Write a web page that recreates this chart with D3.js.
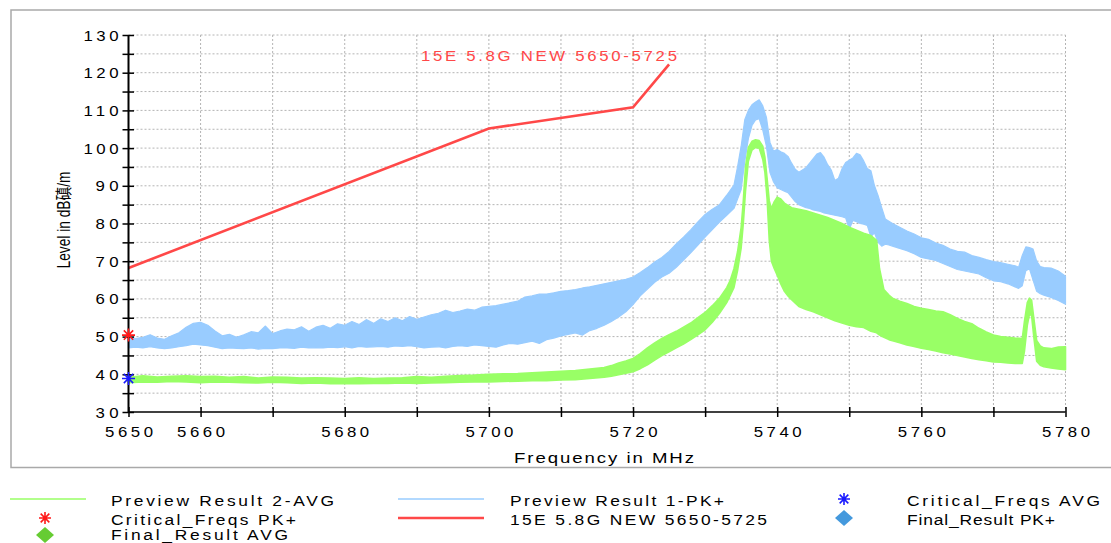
<!DOCTYPE html>
<html>
<head>
<meta charset="utf-8">
<script src="https://cdn.jsdelivr.net/npm/d3@7"></script>
<style>
  body { margin: 0; background: #fff; }
  svg text { font-family: "Liberation Sans", Arial, "Noto Sans CJK TC", "Noto Sans CJK SC", sans-serif; }
</style>
</head>
<body>
<svg id="chart" width="1111" height="543"></svg>
<script>
// ---- Preview Result 1-PK+ : envelope of the peak trace (MHz, dBµV/m) ----
const pkFreq = [5650,5651,5652,5653,5654,5655,5656,5657,5658,5659,5660,5661,5662,5663,5664,5665,5666,5667,5668,5669,
  5670,5671,5672,5673,5674,5675,5676,5677,5678,5679,5680,5681,5682,5683,5684,5685,5686,5687,5688,5689,
  5690,5691,5692,5693,5694,5695,5696,5697,5698,5699,5700,5701,5702,5703,5704,5705,5706,5707,5708,5709,
  5710,5711,5712,5713,5714,5715,5716,5717,5718,5719,5720,5721,5722,5723,5724,5725,5726,5727,5728,5729,
  5730,5731,5732,5733,5734,5734.5,5735,5735.5,5736,5736.5,5737,5737.5,5738,5738.5,5739,5739.5,
  5740,5740.5,5741,5741.5,5742,5742.5,5743,5743.5,5744,5744.5,5745,5745.5,5746,5746.5,5747,5747.5,
  5748,5748.5,5749,5749.5,5750,5750.5,5751,5751.5,5752,5752.5,5753,5753.5,5754,5754.5,5755,5755.5,
  5756,5757,5758,5759,5760,5761,5762,5763,5764,5765,5766,5767,5768,5769,5770,5771,5772,5773,5773.5,
  5774,5774.5,5775,5775.5,5776,5776.5,5777,5778,5779,5780];
const pkHigh = [50.0,49.5,49.8,50.5,49.6,49.3,50.2,51.0,52.5,53.5,53.8,53.0,51.5,50.2,50.6,49.8,50.5,51.3,51.0,52.8,
  50.8,51.5,52.0,51.8,52.6,51.4,52.5,53.0,52.2,53.4,53.0,54.0,53.2,54.5,53.5,54.7,54.0,55.0,54.2,55.3,
  54.6,55.2,55.8,56.2,57.0,56.4,56.8,57.3,57.0,57.8,58.0,58.2,58.6,59.0,59.4,60.5,60.8,61.3,61.3,61.6,
  62.0,62.2,62.5,62.9,63.2,63.6,64.0,64.4,64.8,65.2,65.8,67.0,68.3,69.8,71.0,72.6,74.6,76.4,78.3,80.4,
  82.4,83.8,85.0,87.5,90.2,95.0,100.5,107.5,110.0,111.5,112.2,112.8,111.2,108.2,101.5,99.2,
  99.6,99.0,98.6,97.8,96.0,94.4,93.6,94.2,94.8,96.0,97.2,98.4,98.8,97.6,95.6,94.2,
  91.4,92.0,94.5,96.2,96.8,97.4,98.6,98.2,96.6,94.6,94.0,90.0,87.4,84.2,81.2,80.6,
  80.0,79.0,78.0,77.2,76.2,75.8,74.8,74.2,73.2,72.6,72.4,71.5,71.0,70.4,69.9,69.6,69.2,68.8,68.4,
  71.5,73.8,73.6,73.2,70.0,68.6,68.3,68.2,67.4,66.0];
const pkLow = [47.0,47.2,47.0,47.3,47.0,46.8,47.0,47.3,47.6,48.0,47.8,47.6,47.2,46.8,47.0,46.9,46.8,47.0,46.7,46.9,
  46.8,47.0,47.0,46.9,47.2,47.0,47.1,47.0,47.2,47.1,47.3,47.0,47.4,47.2,47.3,47.4,47.2,47.5,47.4,47.6,
  47.3,47.0,47.2,47.3,47.0,47.4,47.6,47.4,47.8,47.6,47.4,47.2,47.8,48.2,48.0,48.4,48.8,48.2,49.2,49.6,
  50.2,50.6,51.0,50.4,51.6,52.2,53.0,54.0,55.2,56.6,58.5,60.8,62.6,64.4,65.8,66.8,68.4,70.3,72.2,74.3,
  76.4,78.4,80.4,82.2,84.0,86.5,89.0,96.5,102.5,106.0,107.5,107.8,104.8,100.5,93.5,91.0,
  89.5,89.0,88.6,88.2,87.0,85.8,85.0,84.6,84.2,84.0,83.6,83.4,83.2,82.8,82.6,82.4,
  82.2,82.0,81.8,81.5,78.5,80.8,80.5,80.0,79.8,79.5,76.5,77.5,75.0,74.0,74.5,74.3,
  74.0,73.4,72.8,72.0,71.0,70.6,70.2,69.4,68.6,67.8,67.4,67.0,66.6,65.6,64.8,64.6,64.0,63.2,62.8,
  63.5,67.5,68.0,65.0,62.0,61.4,61.0,60.4,59.6,58.6];

// ---- Preview Result 2-AVG : envelope of the average trace ----
const avgFreq = [5650,5652,5654,5656,5658,5660,5662,5664,5666,5668,5670,5672,5674,5676,5678,5680,5682,5684,5686,5688,
  5690,5692,5694,5696,5698,5700,5702,5704,5706,5708,5710,5712,5714,5716,5717,5718,5719,5720,5721,5722,
  5723,5724,5725,5726,5727,5728,5729,5730,5731,5732,5733,5733.5,5734,5734.5,5735,5735.3,5735.6,5736,
  5736.5,5737,5737.5,5738,5738.3,5738.6,5738.9,5739.2,5739.6,5740,5740.5,5741,5741.5,5742,5743,5744,
  5745,5746,5747,5748,5749,5750,5751,5752,5753,5753.8,5754.2,5754.8,5755.5,5756,5757,5758,5759,5760,
  5761,5762,5763,5764,5765,5766,5767,5768,5769,5770,5771,5772,5773,5774,5774.3,5774.7,5775,5775.3,
  5775.6,5776,5776.5,5777,5778,5779,5780];
const avgHigh = [39.2,39.6,39.3,39.5,39.6,39.4,39.5,39.2,39.4,39.0,39.3,39.2,39.0,39.1,39.0,38.9,39.1,38.9,39.0,39.1,
  39.4,39.2,39.5,39.7,39.8,40.0,40.1,40.2,40.4,40.6,40.8,41.0,41.4,41.8,42.3,43.0,43.5,44.2,45.5,47.0,
  48.3,49.5,50.5,51.4,52.5,53.6,55.0,56.4,58.2,60.2,63.0,65.0,68.0,72.5,79.0,86.0,95.0,100.2,
  101.8,102.2,102.0,100.5,97.5,92.0,86.0,84.0,85.8,87.0,86.5,85.4,84.8,84.2,83.8,83.4,
  82.8,82.2,81.6,80.8,80.0,79.0,78.2,77.4,76.8,75.5,68.0,62.5,61.0,60.2,59.4,58.8,58.0,57.5,
  57.2,56.8,56.6,55.8,54.8,54.0,53.4,52.2,51.2,50.4,50.0,49.8,49.6,49.5,54.0,59.0,60.2,59.6,
  55.0,49.0,47.5,47.0,46.8,47.2,47.3];
const avgLow = [37.8,38.0,37.9,38.1,38.0,37.8,38.0,37.9,37.8,37.7,37.9,37.8,37.6,37.7,37.5,37.6,37.5,37.6,37.6,37.7,
  37.6,37.7,37.8,37.9,38.0,38.0,38.1,38.2,38.3,38.3,38.5,38.6,38.9,39.2,39.5,39.9,40.3,40.7,41.5,42.5,
  43.8,45.0,46.0,47.0,48.0,49.2,50.5,51.8,53.8,56.2,59.0,61.0,63.0,67.5,73.5,80.0,88.5,96.5,
  99.5,100.2,100.0,97.0,93.5,86.5,75.5,70.0,68.0,66.3,64.0,62.0,60.8,59.8,58.0,57.2,
  56.6,55.8,55.0,54.2,53.6,53.0,52.6,52.4,51.4,51.0,50.4,49.8,49.2,48.9,48.4,47.8,47.4,46.9,
  46.6,46.2,45.7,45.4,45.0,44.6,44.2,43.9,43.6,43.3,43.2,43.0,42.9,42.9,46.0,53.0,56.0,55.5,
  50.0,43.5,42.4,42.0,41.7,41.4,41.2];

// ---- Limit line "15E 5.8G NEW 5650-5725" ----
const limitFreq = [5650, 5700, 5720, 5725];
const limitLevel = [68.2, 105.2, 110.8, 122.2];

// ---- Critical frequencies ----
const critPkFreq = [5650];
const critPkLevel = [50.4];
const critAvgFreq = [5650];
const critAvgLevel = [38.9];

// ---- Axis ticks ----
const xTicks = [5650,5660,5670,5680,5690,5700,5710,5720,5730,5740,5750,5760,5770,5780];
const xLabelled = [5650,5660,5680,5700,5720,5740,5760,5780];
const yTicks = [30,35,40,45,50,55,60,65,70,75,80,85,90,95,100,105,110,115,120,125,130];
const yLabelled = [30,40,50,60,70,80,90,100,110,120,130];

const colors = {
  pk: "#99ccff",
  avg: "#99ff66",
  limit: "#ff4848",
  critPk: "#ff1a1a",
  critAvg: "#1a1aff",
  finalPk: "#4499dd",
  finalAvg: "#66cc33",
  grid: "#b4b4b4"
};

const STRETCH = 1.2;   // glyphs are drawn slightly wide, as in the instrument software

const svg = d3.select("#chart");
const x = d3.scaleLinear().domain([5650, 5780]).range([128.5, 1065.5]);
const y = d3.scaleLinear().domain([30, 130]).range([412, 35]);

// place a horizontally widened text at (px, py) spanning `len` pixels
function wideText(sel, px, py, str, size, len, anchor, fill) {
  return sel.append("text")
    .attr("transform", `translate(${px},${py}) scale(${STRETCH},1)`)
    .attr("x", 0).attr("y", 0)
    .attr("text-anchor", anchor || "start")
    .attr("font-size", size).attr("fill", fill || "#000")
    .attr("textLength", len / STRETCH).attr("lengthAdjust", "spacing")
    .text(str);
}

// outer frame
svg.append("rect")
  .attr("x", 11).attr("y", 10).attr("width", 1130).attr("height", 457.5)
  .attr("fill", "none").attr("stroke", "#a9a9a9").attr("stroke-width", 1.5);

// dotted grid
const grid = svg.append("g");
grid.selectAll("line.h").data(yTicks.filter(v => v > 30)).join("line")
  .attr("x1", x(5650)).attr("x2", x(5780))
  .attr("y1", d => y(d)).attr("y2", d => y(d))
  .attr("stroke", colors.grid).attr("stroke-width", 1).attr("stroke-dasharray", "2,2");
grid.selectAll("line.v").data(xTicks.filter(v => v > 5650)).join("line")
  .attr("x1", d => x(d)).attr("x2", d => x(d))
  .attr("y1", y(130)).attr("y2", y(30))
  .attr("stroke", colors.grid).attr("stroke-width", 1).attr("stroke-dasharray", "2,2");

// trace envelopes
function band(freq, hi, lo) {
  return freq.map((f, i) => ({ f, hi: hi[i], lo: lo[i] }));
}
const area = d3.area().x(d => x(d.f)).y0(d => y(d.lo)).y1(d => y(d.hi));

svg.append("path").datum(band(pkFreq, pkHigh, pkLow))
  .attr("d", area).attr("fill", colors.pk)
  .attr("stroke", colors.pk).attr("stroke-width", 1.2).attr("stroke-linejoin", "round");

svg.append("path").datum(band(avgFreq, avgHigh, avgLow))
  .attr("d", area).attr("fill", colors.avg)
  .attr("stroke", colors.avg).attr("stroke-width", 1.6).attr("stroke-linejoin", "round");

// limit line
const limitData = limitFreq.map((f, i) => ({ f, v: limitLevel[i] }));
svg.append("path").datum(limitData)
  .attr("d", d3.line().x(d => x(d.f)).y(d => y(d.v)))
  .attr("fill", "none").attr("stroke", colors.limit).attr("stroke-width", 2.6);

wideText(svg, 421, 60.5, "15E 5.8G NEW 5650-5725", 14, 256, "start", colors.limit);

// axes
const yAxis = d3.axisLeft(y).tickValues(yTicks).tickSize(6).tickFormat(() => "");
const gy = svg.append("g").attr("transform", `translate(${x(5650)},0)`).call(yAxis);
gy.select(".domain").attr("stroke", "#000").attr("stroke-width", 2).attr("d", `M0,${y(30)}V${y(130)}`);
gy.selectAll(".tick line").attr("x1", 5.5).attr("stroke", "#000").attr("stroke-width", 1.5);
gy.selectAll(".tick").filter(d => yLabelled.includes(d)).each(function (d) {
  const s = String(d);
  wideText(d3.select(this), -10, 5, s, 14, s.length * 12 - 1, "end");
});

const xAxis = d3.axisBottom(x).tickValues(xTicks).tickSize(5).tickFormat(() => "");
const gx = svg.append("g").attr("transform", `translate(0,${y(30)})`).call(xAxis);
gx.select(".domain").attr("stroke", "#000").attr("stroke-width", 1.6).attr("d", `M${x(5650)},0H${x(5780)}`);
gx.selectAll(".tick line").attr("y1", -5).attr("stroke", "#000").attr("stroke-width", 1.5);
gx.selectAll(".tick").filter(d => xLabelled.includes(d)).each(function (d) {
  wideText(d3.select(this), 0, 25, String(d), 14, 48, "middle");
});

// axis titles
wideText(svg, 604, 463, "Frequency in MHz", 15.5, 180, "middle");

// vertical title: tall, narrow glyphs, 97 px long, centred at y = 220
const yTitle = svg.append("text")
  .attr("text-anchor", "middle").attr("font-size", 17.5).attr("fill", "#000");
yTitle.append("tspan").text("Level in dB");
yTitle.append("tspan").attr("font-family", "'Noto Sans CJK TC', 'Noto Sans CJK SC', sans-serif").text("磌");
yTitle.append("tspan").text("/m");
const titleLen = yTitle.node().getComputedTextLength() || 120;
yTitle.attr("transform", `translate(70,220) rotate(-90) scale(${97 / titleLen},1)`);

// markers
function asterisk(sel, r, color, w) {
  const k = r * 0.72;
  sel.append("path")
    .attr("d", `M${-r},0H${r}M0,${-r}V${r}M${-k},${-k}L${k},${k}M${-k},${k}L${k},${-k}`)
    .attr("fill", "none").attr("stroke", color).attr("stroke-width", w);
}
critPkFreq.forEach((f, i) => {
  asterisk(svg.append("g").attr("transform", `translate(${x(f)},${y(critPkLevel[i])})`), 6.5, colors.critPk, 1.6);
});
critAvgFreq.forEach((f, i) => {
  asterisk(svg.append("g").attr("transform", `translate(${x(f)},${y(critAvgLevel[i])})`), 6.5, colors.critAvg, 1.6);
});

// legend
const legendItems = [
  { label: "Preview Result 2-AVG", kind: "line", color: colors.avg, w: 1.5, col: 0, row: 0, len: 223 },
  { label: "Preview Result 1-PK+", kind: "line", color: colors.pk, w: 1.5, col: 1, row: 0, len: 214 },
  { label: "Critical_Freqs AVG", kind: "star", color: colors.critAvg, col: 2, row: 0, len: 193 },
  { label: "Critical_Freqs PK+", kind: "star", color: colors.critPk, col: 0, row: 1, len: 185 },
  { label: "15E 5.8G NEW 5650-5725", kind: "line", color: colors.limit, w: 2.6, col: 1, row: 1, len: 257 },
  { label: "Final_Result PK+", kind: "diamond", color: colors.finalPk, col: 2, row: 1, len: 148 },
  { label: "Final_Result AVG", kind: "diamond", color: colors.finalAvg, col: 0, row: 2, len: 177 }
];
const colX = [{ s0: 10, s1: 86, sc: 45, t: 111 }, { s0: 398, s1: 484, sc: 441, t: 510 }, { s0: 805, s1: 882, sc: 844, t: 907 }];
const rowY = [499, 518, 535];
const rowBase = [505.5, 524.5, 539.5];
const lg = svg.append("g");
legendItems.forEach(it => {
  const c = colX[it.col], yy = rowY[it.row];
  if (it.kind === "line") {
    lg.append("line").attr("x1", c.s0).attr("x2", c.s1).attr("y1", yy).attr("y2", yy)
      .attr("stroke", it.color).attr("stroke-width", it.w);
  } else if (it.kind === "star") {
    asterisk(lg.append("g").attr("transform", `translate(${c.sc},${yy})`), 6, it.color, 1.6);
  } else {
    lg.append("path").attr("d", "M0,-8L9,0L0,8L-9,0Z")
      .attr("transform", `translate(${c.sc},${yy})`).attr("fill", it.color);
  }
  wideText(lg, c.t, rowBase[it.row], it.label, 14.5, it.len, "start");
});
</script>
</body>
</html>
